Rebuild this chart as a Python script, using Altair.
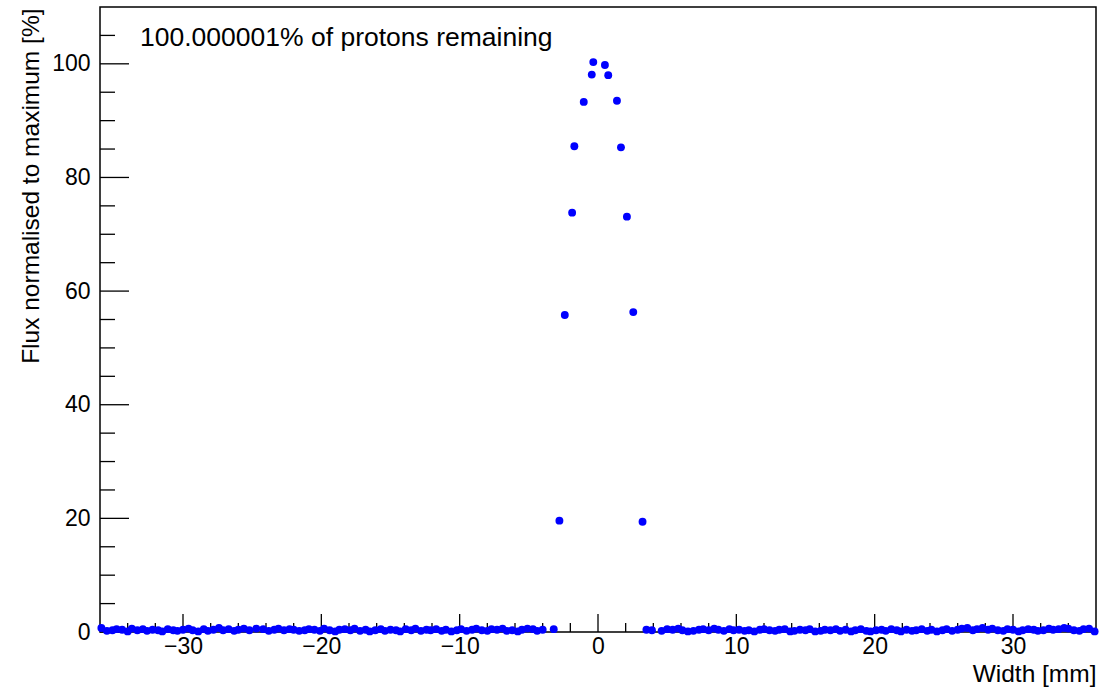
import altair as alt
import pandas as pd

# baseline (near-zero) points, left side
left_x = [-35.9, -35.5, -35.1, -34.8, -34.4, -34.0, -33.7, -33.3, -32.9, -32.6, -32.2, -31.8,
          -31.5, -31.1, -30.7, -30.4, -30.0, -29.6, -29.3, -28.9, -28.5, -28.2, -27.8, -27.4,
          -27.1, -26.7, -26.3, -26.0, -25.6, -25.2, -24.7, -24.2, -23.8, -23.4, -23.1, -22.7,
          -22.3, -22.0, -21.6, -21.2, -20.9, -20.5, -20.1, -19.8, -19.4, -19.0, -18.7, -18.3,
          -17.9, -17.6, -17.2, -16.8, -16.5, -16.1, -15.7, -15.4, -15.0, -14.6, -14.3, -13.9,
          -13.5, -13.2, -12.8, -12.4, -12.1, -11.7, -11.3, -11.0, -10.6, -10.2, -9.9, -9.5,
          -9.1, -8.8, -8.4, -8.0, -7.7, -7.3, -6.9, -6.6, -6.2, -5.8, -5.5, -5.1, -4.7, -4.4,
          -4.0, -3.2]
left_y = [0.7, 0.2, 0.3, 0.5, 0.4, 0.1, 0.6, 0.3, 0.5, 0.2, 0.4, 0.3,
          0.1, 0.5, 0.3, 0.2, 0.4, 0.6, 0.3, 0.1, 0.5, 0.2, 0.4, 0.7,
          0.3, 0.5, 0.2, 0.4, 0.6, 0.3, 0.6, 0.5, 0.2, 0.4, 0.6, 0.3,
          0.5, 0.4, 0.2, 0.3, 0.5, 0.4, 0.2, 0.6, 0.3, 0.1, 0.4, 0.5,
          0.3, 0.6, 0.2, 0.4, 0.1, 0.3, 0.5, 0.2, 0.4, 0.3, 0.1, 0.5,
          0.3, 0.6, 0.2, 0.4, 0.3, 0.5, 0.2, 0.4, 0.1, 0.3, 0.5, 0.2,
          0.4, 0.6, 0.3, 0.2, 0.5, 0.4, 0.6, 0.2, 0.3, 0.1, 0.4, 0.6,
          0.5, 0.2, 0.4, 0.5]

# central peak points
peak_x = [-2.79, -2.40, -1.87, -1.71, -1.03, -0.45, -0.34, 0.50, 0.74, 1.37, 1.66, 2.09, 2.55, 3.22]
peak_y = [19.6, 55.8, 73.8, 85.5, 93.3, 98.1, 100.3, 99.8, 98.0, 93.5, 85.3, 73.1, 56.3, 19.4]

# baseline points, right side
right_x = [3.5, 3.9, 4.6, 5.0, 5.4, 5.8, 6.1, 6.5, 6.9, 7.3, 7.6, 8.0, 8.4, 8.7,
           9.1, 9.5, 9.8, 10.2, 10.6, 10.9, 11.3, 11.7, 12.0, 12.4, 12.8, 13.1, 13.5,
           13.9, 14.2, 14.6, 15.0, 15.3, 15.7, 16.1, 16.4, 16.8, 17.2, 17.5, 17.9,
           18.3, 18.6, 19.0, 19.4, 19.7, 20.1, 20.5, 20.8, 21.2, 21.6, 21.9, 22.3,
           22.7, 23.0, 23.4, 23.8, 24.1, 24.5, 24.9, 25.2, 25.6, 26.0, 26.3, 26.7,
           27.1, 27.4, 27.8, 28.2, 28.5, 28.9, 29.3, 29.6, 30.0, 30.4, 30.7, 31.1,
           31.5, 31.8, 32.2, 32.6, 32.9, 33.3, 33.7, 34.0, 34.4, 34.8, 35.1, 35.5, 35.9]
right_y = [0.4, 0.3, 0.2, 0.5, 0.4, 0.6, 0.3, 0.1, 0.2, 0.4, 0.5, 0.3, 0.6, 0.4,
           0.2, 0.5, 0.3, 0.4, 0.2, 0.3, 0.1, 0.4, 0.5, 0.3, 0.2, 0.4, 0.5,
           0.1, 0.2, 0.4, 0.3, 0.5, 0.1, 0.2, 0.4, 0.3, 0.5, 0.2, 0.4,
           0.1, 0.3, 0.5, 0.2, 0.1, 0.3, 0.4, 0.2, 0.5, 0.3, 0.1, 0.4,
           0.2, 0.3, 0.5, 0.2, 0.4, 0.1, 0.3, 0.5, 0.2, 0.4, 0.6, 0.7,
           0.3, 0.5, 0.7, 0.4, 0.6, 0.3, 0.2, 0.5, 0.4, 0.1, 0.3, 0.5,
           0.4, 0.2, 0.3, 0.6, 0.4, 0.5, 0.7, 0.6, 0.3, 0.2, 0.5, 0.6, 0.1]

x_major = [-30, -20, -10, 0, 10, 20, 30]
x_minor = [-34, -32, -28, -26, -24, -22, -18, -16, -14, -12, -8, -6, -4, -2,
           2, 4, 6, 8, 12, 14, 16, 18, 22, 24, 26, 28, 32, 34]
y_major = [0, 20, 40, 60, 80, 100]
y_minor = [5, 10, 15, 25, 30, 35, 45, 50, 55, 65, 70, 75, 85, 90, 95, 105]

note_text = ["100.000001% of protons remaining"]

W, H = 996, 625
FONT = "Liberation Sans"

pts = pd.DataFrame({
    "x": left_x + peak_x + right_x,
    "y": left_y + peak_y + right_y,
})

xs = alt.Scale(domain=[-36, 36], nice=False, zero=False)
ys = alt.Scale(domain=[0, 110], nice=False, zero=False)

points = alt.Chart(pts).mark_circle(size=62, color="#0000ff", opacity=1).encode(
    x=alt.X("x:Q", scale=xs,
            axis=alt.Axis(values=x_major, ticks=False, domain=False, grid=False,
                          labelFont=FONT, labelFontSize=23, labelColor="black",
                          labelPadding=3, title="Width [mm]", titleFont=FONT,
                          titleFontSize=24.5, titleFontWeight="normal", titleColor="black",
                          titleAlign="right", titleX=W, titleY=49,
                          titleBaseline="alphabetic")),
    y=alt.Y("y:Q", scale=ys,
            axis=alt.Axis(values=y_major, ticks=False, domain=False, grid=False,
                          labelFont=FONT, labelFontSize=23, labelColor="black",
                          labelPadding=10, title="Flux normalised to maximum [%]",
                          titleFont=FONT, titleFontSize=24.5, titleFontWeight="normal",
                          titleColor="black", titleAngle=-90, titleAlign="right",
                          titleBaseline="alphabetic", titleX=-62, titleY=1)),
)

xmaj = alt.Chart(pd.DataFrame({"t": x_major})).mark_rule(color="black", strokeWidth=1.3).encode(
    x=alt.X("t:Q", scale=xs), y=alt.value(H), y2=alt.value(H - 18))
xmin = alt.Chart(pd.DataFrame({"t": x_minor})).mark_rule(color="black", strokeWidth=1.3).encode(
    x=alt.X("t:Q", scale=xs), y=alt.value(H), y2=alt.value(H - 9))
ymaj = alt.Chart(pd.DataFrame({"t": y_major})).mark_rule(color="black", strokeWidth=1.3).encode(
    y=alt.Y("t:Q", scale=ys), x=alt.value(0), x2=alt.value(29))
ymin = alt.Chart(pd.DataFrame({"t": y_minor})).mark_rule(color="black", strokeWidth=1.3).encode(
    y=alt.Y("t:Q", scale=ys), x=alt.value(0), x2=alt.value(15))

note = alt.Chart(pd.DataFrame({"label": note_text})).mark_text(
    font=FONT, fontSize=26.5, align="left", baseline="alphabetic", color="black"
).encode(x=alt.value(40), y=alt.value(39), text="label:N")

chart = alt.layer(xmaj, xmin, ymaj, ymin, points, note).properties(
    width=W, height=H,
    autosize=alt.AutoSizeParams(type="none"),
    padding={"left": 100, "top": 7, "right": 6, "bottom": 59},
    background="white",
).configure_view(stroke="black", strokeWidth=1.5)

chart.save("out.html", embed_options={"renderer": "svg", "actions": False})
